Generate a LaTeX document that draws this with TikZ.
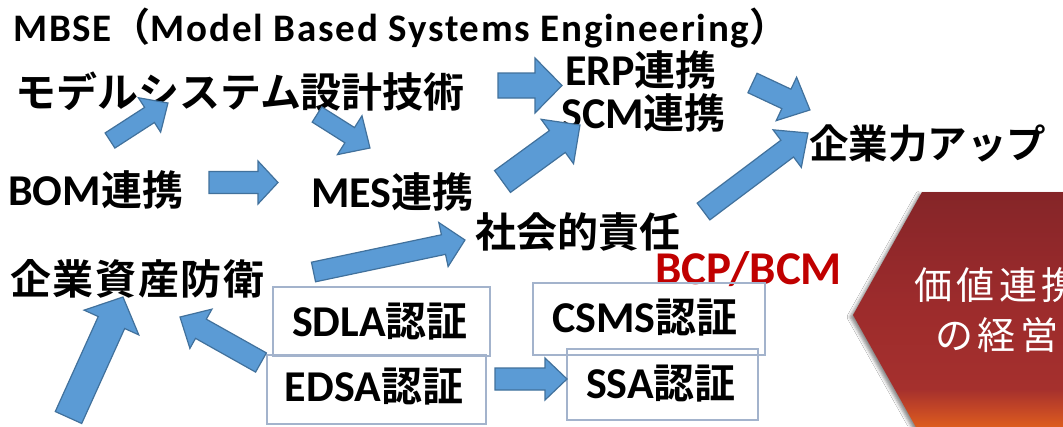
\documentclass[tikz,border=0pt]{standalone}
\usepackage{fontspec}
\setmainfont{Carlito}
\newfontfamily\latf{Carlito}
\newfontfamily\latwide{Carlito}[LetterSpace=4.5]
\newfontfamily\jpf{Noto Sans CJK JP}[BoldFont={* Bold}]
\newfontfamily\jpspaced{Noto Sans CJK JP}[BoldFont={* Bold}, LetterSpace=4]
\newfontfamily\jpwide{Noto Sans CJK JP}[LetterSpace=12]
\usetikzlibrary{shadows.blur}

\definecolor{arrowfill}{HTML}{5B9BD5}
\definecolor{arrowline}{HTML}{41719C}
\definecolor{boxline}{HTML}{A3B3CC}
\definecolor{bcpred}{HTML}{C00000}
\definecolor{gradorange}{RGB}{228,100,28}
\definecolor{gradorangeb}{RGB}{220,92,30}
\definecolor{gradmix}{RGB}{195,70,38}
\definecolor{gradred}{RGB}{165,48,45}
\definecolor{gradmid}{RGB}{156,43,44}
\definecolor{gradtop}{RGB}{133,37,40}

% vertical fill of the chevron: orange at the foot, dark red at the top
\pgfdeclareverticalshading{valuegrad}{100bp}{%
  color(0bp)=(gradorange); color(25bp)=(gradorange);
  color(27.4bp)=(gradorangeb); color(31bp)=(gradmix);
  color(35bp)=(gradred); color(53bp)=(gradmid);
  color(75bp)=(gradtop); color(100bp)=(gradtop)}

% Latin parts at 44pt, Japanese parts at 41pt
\newcommand\lat[1]{{\fontsize{44}{48}\selectfont\latf #1}}
\newcommand\jap[1]{{\fontsize{41}{45}\selectfont\jpf #1}}

\tikzset{
  txt/.style={inner sep=0pt, anchor=base west, font=\bfseries},
  boxtxt/.style={inner sep=0pt, anchor=base, font=\bfseries},
  certbox/.style={draw=boxline, line width=1.6pt, inner sep=0pt},
  blockarr/.style={fill=arrowfill, draw=arrowline, line width=1.2pt, line join=miter},
}

% block arrow from tail (#1,#2) to tip (#3,#4);
% shaft width #5, head width #6, head length #7
\newcommand\blockarrow[7]{%
  \pgfmathsetmacro\baang{atan2(-((#4)-(#2)),(#3)-(#1))}%
  \pgfmathsetmacro\balen{veclen((#3)-(#1),(#4)-(#2))}%
  \pgfmathsetmacro\bashaft{\balen-(#7)}%
  \begin{scope}[shift={(#1,#2)},rotate=\baang]
    \draw[blockarr] (0,{-(#5)/2}) -- (\bashaft,{-(#5)/2}) -- (\bashaft,{-(#6)/2})
      -- (\balen,0) -- (\bashaft,{(#6)/2}) -- (\bashaft,{(#5)/2}) -- (0,{(#5)/2}) -- cycle;
  \end{scope}}

\begin{document}
\begin{tikzpicture}[x=1pt,y=-1pt]
\useasboundingbox (0,0) rectangle (1063,426);
\clip (0,0) rectangle (1063,426);
\fill[white] (0,0) rectangle (1063,426);

% chevron panel on the right
\path[shading=valuegrad,
  blur shadow={shadow xshift=-3pt, shadow yshift=-2pt, shadow blur radius=3pt, shadow opacity=45}]
  (922,192) -- (1120,192) -- (1120,438) -- (922,438) -- (853,315) -- cycle;
\node[inner sep=0pt, anchor=base, text=white, font=\fontsize{38}{42}\selectfont\jpwide] (val1) at (997,299) {価値連携};
\node[inner sep=0pt, anchor=base, text=white, font=\fontsize{38}{42}\selectfont\jpwide] (val2) at (997,349) {の経営};

% headings
\node[txt, font=\fontsize{39}{43}\selectfont\bfseries] (mbse) at (13,41)
  {{\latwide MBSE}{\jpf （}{\latwide Model Based Systems Engineering}{\jpf ）}};
\node[txt] (model) at (15,107) {\jap{モデルシステム設計技術}};
\node[txt] (erp) at (565,85) {\lat{ERP}\jap{連携}};
\node[txt] (scm) at (561,128) {\lat{SCM}\jap{連携}};
\node[txt, font=\fontsize{39.5}{44}\selectfont\bfseries] (power) at (809,158) {\jpf 企業力アップ};
\node[txt] (bom) at (8,205) {\lat{BOM}\jap{連携}};
\node[txt] (mes) at (311,207) {\lat{MES}\jap{連携}};
\node[txt] (social) at (475,247) {\jap{社会的責任}};
\node[txt, font=\fontsize{41}{45}\selectfont\bfseries] (assets) at (10,294) {\jpspaced 企業資産防衛};
\node[txt, text=bcpred, font=\fontsize{47}{51}\selectfont\bfseries] (bcp) at (655,284) {\latf BCP/BCM};

% certification boxes
\node[certbox, minimum width=217pt, minimum height=69pt] (sdla) at (381.5,321.5) {};
\node[certbox, minimum width=219pt, minimum height=69pt] (edsa) at (376.5,389.5) {};
\node[certbox, minimum width=232pt, minimum height=72pt] (csms) at (649,319) {};
\node[certbox, minimum width=191pt, minimum height=71pt] (ssa) at (662.5,384.5) {};
\node[boxtxt] (sdlat) at (380,336) {\lat{SDLA}\jap{認証}};
\node[boxtxt] (edsat) at (374,401) {\lat{EDSA}\jap{認証}};
\node[boxtxt] (csmst) at (645,332) {\lat{CSMS}\jap{認証}};
\node[boxtxt] (ssat) at (661,398) {\lat{SSA}\jap{認証}};

% block arrows
\blockarrow{110}{140.5}{168}{103}{18}{41}{22}
\blockarrow{317}{114.5}{370}{148}{18}{46}{24}
\blockarrow{209}{182.5}{278}{182.5}{22}{43}{20}
\blockarrow{498}{85.5}{562}{85.5}{25}{55}{27}
\blockarrow{502.5}{181.5}{580}{125}{27}{55}{28}
\blockarrow{752.5}{83}{810}{110}{21.5}{48}{26}
\blockarrow{703.5}{211.5}{808}{133}{21}{47}{26}
\blockarrow{68.5}{417.5}{123}{297}{29}{60}{28}
\blockarrow{261}{362.5}{180}{317}{22}{45}{24}
\blockarrow{313.5}{272}{465}{240}{20}{45}{22}
\blockarrow{495}{379}{567}{379}{22}{42}{22}
\end{tikzpicture}
\end{document}
